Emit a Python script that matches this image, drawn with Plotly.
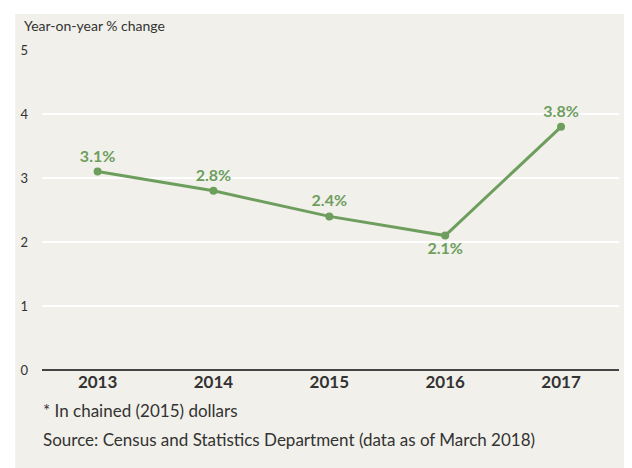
import plotly.graph_objects as go

years = ["2013", "2014", "2015", "2016", "2017"]
growth = [3.1, 2.8, 2.4, 2.1, 3.8]
labels = ["3.1%", "2.8%", "2.4%", "2.1%", "3.8%"]
label_pos = ["top center", "top center", "top center", "bottom center", "top center"]
y_ticks = [0, 1, 2, 3, 4, 5]

# page body has an 8px margin; work in reference coordinates and shift
OFF = 8
W, H = 632 - OFF, 468 - OFF
L, R, T, B = 37 - OFF, 13, 50 - OFF, 98
pw, ph = W - L - R, H - T - B

def px(x):
    return (x - OFF - L) / pw

def py(y):
    return (H - B - (y - OFF)) / ph

GREEN = "#6E9E5E"
FONT = "Lato"
TXT = "#333333"

fig = go.Figure()
fig.add_trace(go.Scatter(
    x=years, y=growth, mode="lines+markers+text",
    line=dict(color=GREEN, width=3),
    marker=dict(color=GREEN, size=8),
    text=labels, textposition=label_pos,
    textfont=dict(family=FONT, size=16, color=GREEN, weight="bold"),
    cliponaxis=False, hoverinfo="skip",
))

fig.update_layout(
    width=W, height=H,
    margin=dict(l=L, r=R, t=T, b=B),
    paper_bgcolor="white",
    plot_bgcolor="rgba(0,0,0,0)",
    showlegend=False,
    font=dict(family=FONT, color=TXT),
    xaxis=dict(
        type="category", range=[-0.48, 4.5], showgrid=False, zeroline=False,
        showline=False, ticks="",
        tickfont=dict(family=FONT, size=17, color=TXT, weight="bold"),
        fixedrange=True,
    ),
    yaxis=dict(
        range=[0, 5], tickvals=y_ticks, showgrid=True, gridcolor="white", gridwidth=2,
        zeroline=True, zerolinecolor="#444444", zerolinewidth=1.5,
        showline=False, ticks="", ticklabelstandoff=13,
        tickfont=dict(family=FONT, size=13, color=TXT),
        fixedrange=True,
    ),
    shapes=[dict(
        type="rect", xref="paper", yref="paper", layer="below",
        x0=px(10), x1=px(632), y0=py(468), y1=py(14),
        fillcolor="#F1F0EA", line=dict(width=0),
    )],
    annotations=[
        dict(text="Year-on-year % change", xref="paper", yref="paper",
             x=px(17), y=py(25), xanchor="left", yanchor="middle", showarrow=False,
             font=dict(family=FONT, size=14, color=TXT)),
        dict(text="* In chained (2015) dollars", xref="paper", yref="paper",
             x=px(36), y=py(410), xanchor="left", yanchor="middle", showarrow=False,
             font=dict(family=FONT, size=17, color=TXT)),
        dict(text="Source: Census and Statistics Department (data as of March 2018)",
             xref="paper", yref="paper",
             x=px(36), y=py(439), xanchor="left", yanchor="middle", showarrow=False,
             font=dict(family=FONT, size=17, color=TXT)),
    ],
)

fig.write_html("out.html")
